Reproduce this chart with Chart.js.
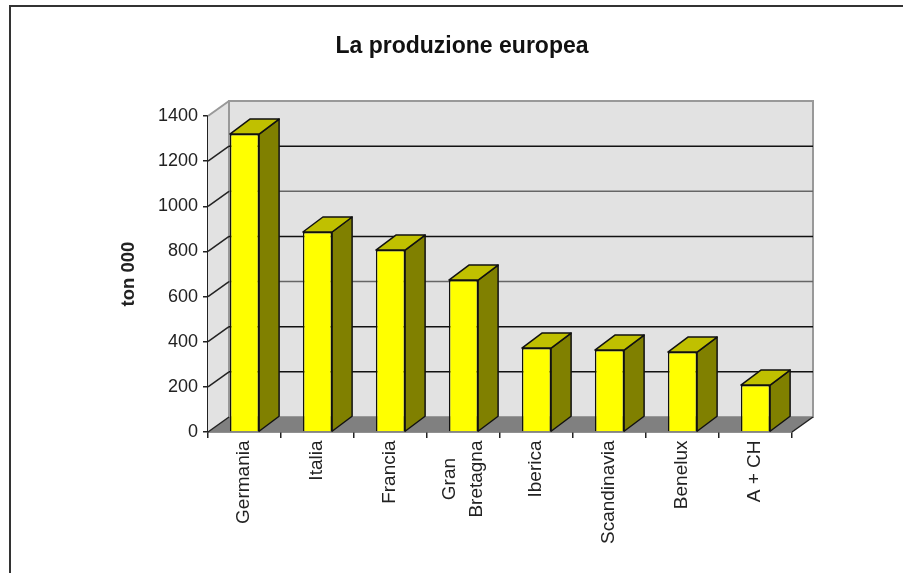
<!DOCTYPE html>
<html>
<head>
<meta charset="utf-8">
<title>La produzione europea</title>
<script src="https://cdn.jsdelivr.net/npm/chart.js@4"></script>
<style>
    html, body { margin: 0; padding: 0; background: #fff; overflow: hidden; }
    #wrap { position: relative; width: 903px; height: 573px; }
    #frame { position: absolute; left: 9px; top: 5px; right: -5px; bottom: -5px; border: 2px solid #333; }
</style>
</head>
<body>
<div id="wrap">
    <canvas id="prodChart" width="903" height="573"></canvas>
    <div id="frame"></div>
</div>
<script>
const categories = ['Germania', 'Italia', 'Francia', ['Gran', 'Bretagna'], 'Iberica', 'Scandinavia', 'Benelux', 'A + CH'];
const production = [1320, 886, 806, 673, 372, 363, 354, 208];
const yTicks = [0, 200, 400, 600, 800, 1000, 1200, 1400];
// colore delle linee sulla parete di fondo
const wallLineColors = { 200: '#111', 400: '#111', 600: '#666', 800: '#111', 1000: '#666', 1200: '#111' };

const depthX = 21;
const depthY = -15;
const barDepthX = 20;
const fontFamily = '"Liberation Sans", Arial, sans-serif';

function poly(ctx, pts, fill, stroke, width) {
    ctx.beginPath();
    pts.forEach((p, i) => i ? ctx.lineTo(p[0], p[1]) : ctx.moveTo(p[0], p[1]));
    ctx.closePath();
    if (fill) { ctx.fillStyle = fill; ctx.fill(); }
    if (stroke) { ctx.strokeStyle = stroke; ctx.lineWidth = width || 1; ctx.stroke(); }
}

function line(ctx, x1, y1, x2, y2, color, width) {
    ctx.beginPath();
    ctx.moveTo(x1, y1);
    ctx.lineTo(x2, y2);
    ctx.strokeStyle = color;
    ctx.lineWidth = width || 1;
    ctx.stroke();
}

// pareti, pavimento e griglia in finto 3D
const wallsPlugin = {
    id: 'walls',
    beforeDatasetsDraw(chart) {
        const { ctx, chartArea: a, scales: { y } } = chart;
        const bx = a.left + depthX, by = a.bottom + depthY;
        ctx.save();
        poly(ctx, [[a.left, a.top], [bx, a.top + depthY], [bx, by], [a.left, a.bottom]], '#e2e2e2');
        poly(ctx, [[bx, a.top + depthY], [a.right + depthX, a.top + depthY], [a.right + depthX, by], [bx, by]], '#e2e2e2', '#999', 2);
        poly(ctx, [[a.left, a.bottom], [a.right, a.bottom], [a.right + depthX, by], [bx, by]], '#808080');
        yTicks.forEach(v => {
            const py = y.getPixelForValue(v);
            const sideColor = v === 1400 ? '#999' : '#222';
            line(ctx, a.left, py, bx, py + depthY, sideColor, v === 1400 ? 2 : 1.5);
            if (wallLineColors[v]) line(ctx, bx, py + depthY, a.right + depthX, py + depthY, wallLineColors[v], 1.5);
        });
        line(ctx, a.right, a.bottom, a.right + depthX, by, '#222', 1.5);
        ctx.restore();
    },
    afterDatasetsDraw(chart) {
        const { ctx } = chart;
        ctx.save();
        ctx.lineJoin = 'round';
        chart.getDatasetMeta(0).data.forEach(bar => {
            const l = bar.x - bar.width / 2, r = bar.x + bar.width / 2;
            const t = bar.y, b = bar.base;
            poly(ctx, [[r, t], [r + barDepthX, t + depthY], [r + barDepthX, b + depthY], [r, b]], '#808000', '#111', 1.5);
            poly(ctx, [[l, t], [l + barDepthX, t + depthY], [r + barDepthX, t + depthY], [r, t]], '#c0c000', '#111', 1.5);
        });
        ctx.restore();
    },
    // etichette verticali: Chart.js non centra quelle su due righe
    afterDraw(chart) {
        const { ctx, chartArea: a, scales: { x } } = chart;
        const lineGap = 27;
        ctx.save();
        ctx.font = '19px ' + fontFamily;
        ctx.fillStyle = '#222';
        ctx.textBaseline = 'middle';
        categories.forEach((cat, i) => {
            const lines = Array.isArray(cat) ? cat : [cat];
            const longest = Math.max(...lines.map(s => ctx.measureText(s).width));
            lines.forEach((s, j) => {
                ctx.save();
                ctx.translate(x.getPixelForTick(i) + (j - (lines.length - 1) / 2) * lineGap - 0.5, a.bottom + 8.5 + longest / 2);
                ctx.rotate(-Math.PI / 2);
                ctx.textAlign = 'center';
                ctx.fillText(s, 0, 0);
                ctx.restore();
            });
        });
        ctx.restore();
    }
};

new Chart(document.getElementById('prodChart'), {
    type: 'bar',
    data: {
        labels: categories,
        datasets: [{
            data: production,
            backgroundColor: '#ffff00',
            borderColor: '#111',
            borderWidth: 1.5,
            barPercentage: 0.4,
            categoryPercentage: 1
        }]
    },
    plugins: [wallsPlugin],
    options: {
        responsive: false,
        animation: false,
        layout: { padding: { left: 132, right: 111, top: 0, bottom: 0 } },
        plugins: {
            legend: { display: false },
            tooltip: { enabled: false },
            title: {
                display: true,
                text: 'La produzione europea',
                color: '#111',
                font: { family: fontFamily, size: 23, weight: 'bold', lineHeight: 1 },
                padding: { top: 35.5, bottom: 57.5 }
            }
        },
        scales: {
            x: {
                grid: { drawOnChartArea: false, color: '#222', tickLength: 6, lineWidth: 1.5 },
                border: { color: '#222', width: 1.5 },
                ticks: { display: false },
                afterFit(s) { s.height = 141; }
            },
            y: {
                min: 0,
                max: 1400,
                grid: { drawOnChartArea: false, color: '#222', tickLength: 5, lineWidth: 1.5 },
                border: { color: '#222', width: 1.5 },
                afterBuildTicks(s) { s.ticks = yTicks.map(v => ({ value: v })); },
                ticks: {
                    color: '#222',
                    padding: 5,
                    callback: v => String(v),
                    font: { family: fontFamily, size: 18 }
                },
                title: {
                    display: true,
                    text: 'ton 000',
                    color: '#222',
                    padding: { top: -14, bottom: 0 },
                    font: { family: fontFamily, size: 18.5, weight: 'bold' }
                },
                afterFit(s) { s.width = 76; }
            }
        }
    }
});
</script>
</body>
</html>
